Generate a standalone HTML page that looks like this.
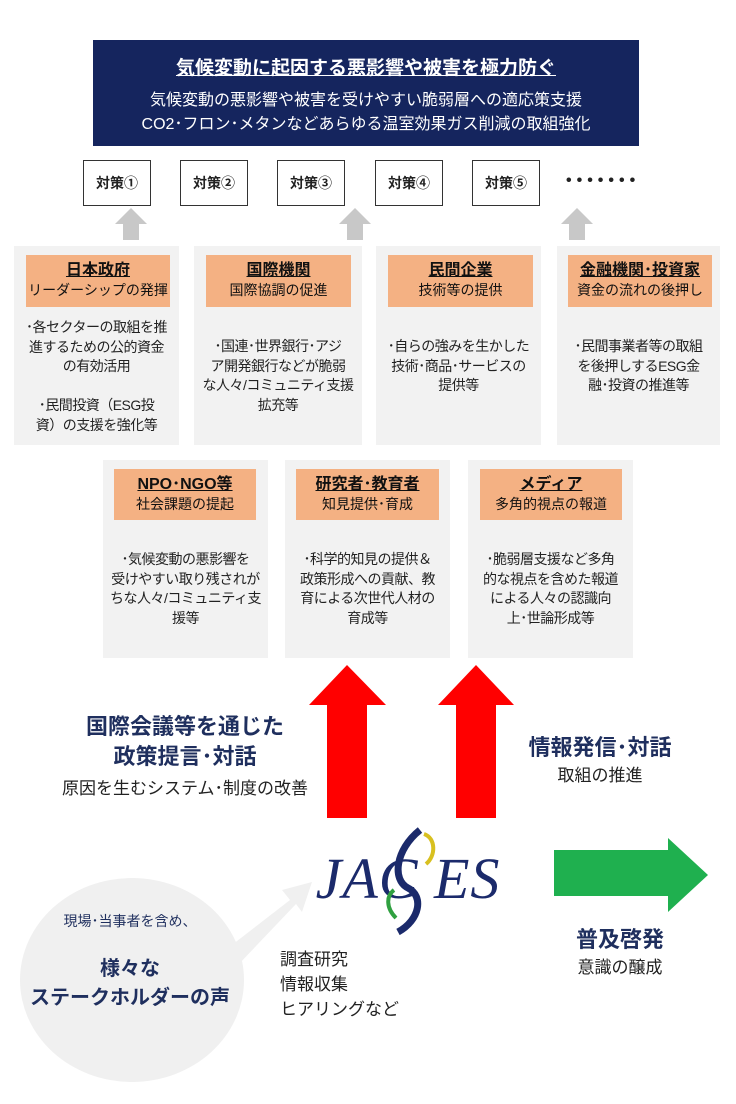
<!DOCTYPE html>
<html><head><meta charset="utf-8"><style>
*{margin:0;padding:0;box-sizing:border-box}
body{width:736px;height:1104px;background:#fff;position:relative;overflow:hidden;font-family:"Liberation Sans","Noto Sans CJK JP",sans-serif;color:#222}
.a{position:absolute}
.hdr{left:93px;top:40px;width:546px;height:106px;background:#15255e;color:#fff;text-align:center}
.k{border:1px solid #333;background:#fff;width:68px;height:46px;font-size:14px;font-weight:bold;display:flex;align-items:center;justify-content:center;top:160px}
.p{background:#f2f2f2}
.o{background:#f4b183;text-align:center;color:#111;font-size:14px;line-height:19px;padding-top:6px;white-space:nowrap}
.o b{font-size:16px;text-decoration:underline;display:block;line-height:20px}
.t{font-size:14px;line-height:19.5px;text-align:center;color:#222;white-space:nowrap;letter-spacing:-0.5px}
</style></head><body>
<div class="a hdr">
<div style="font-size:19px;font-weight:bold;text-decoration:underline;margin-top:17px;line-height:24px">気候変動に起因する悪影響や被害を極力防ぐ</div>
<div style="font-size:16px;line-height:24px;margin-top:8px">気候変動の悪影響や被害を受けやすい脆弱層への適応策支援<br>CO2･フロン･メタンなどあらゆる温室効果ガス削減の取組強化</div>
</div>
<div class="a k" style="left:83px">対策①</div>
<div class="a k" style="left:180px">対策②</div>
<div class="a k" style="left:277px">対策③</div>
<div class="a k" style="left:375px">対策④</div>
<div class="a k" style="left:472px">対策⑤</div>
<div class="a" style="left:566px;top:172px;font-size:16px;font-weight:bold;letter-spacing:5px">•••••••</div>
<svg class="a" style="left:0;top:0" width="736" height="1104">
<g fill="#c8c8c8">
<polygon points="131,208 147,224 139,224 139,240 123,240 123,224 115,224"/>
<polygon points="355,208 371,224 363,224 363,240 347,240 347,224 339,224"/>
<polygon points="577,208 593,224 585,224 585,240 569,240 569,224 561,224"/>
</g>
<ellipse cx="132" cy="980" rx="112" ry="102" fill="#f0f0f0"/>
<polygon points="238,965 228,948 290,900 282,890 312,882 302,912 296,904" fill="#f0f0f0"/>
<g fill="#ff0000">
<polygon points="347,665 386,705 367,705 367,818 327,818 327,705 309,705"/>
<polygon points="476,665 514,705 496,705 496,818 456,818 456,705 438,705"/>
</g>
<polygon points="554,850 668,850 668,838 708,875 668,912 668,896 554,896" fill="#1fb04f"/>
<text x="408" y="898" text-anchor="middle" font-family="Liberation Serif,serif" font-style="italic" font-size="58" fill="#1b2a6b" letter-spacing="1">JAC    ES</text>
<path d="M420,830 C395,850 392,880 408,888 C424,896 420,920 398,932" stroke="#1b2a6b" stroke-width="7" fill="none"/>
<path d="M424,834 C436,838 436,856 426,864" stroke="#d8c020" stroke-width="4" fill="none"/>
<path d="M396,918 C386,908 386,896 394,890" stroke="#30a040" stroke-width="4" fill="none"/>
</svg>
<!-- row 1 -->
<div class="a p" style="left:14px;top:246px;width:165px;height:199px"></div>
<div class="a p" style="left:194px;top:246px;width:168px;height:199px"></div>
<div class="a p" style="left:376px;top:246px;width:165px;height:199px"></div>
<div class="a p" style="left:557px;top:246px;width:163px;height:199px"></div>
<div class="a o" style="left:26px;top:255px;width:144px;height:52px"><b>日本政府</b>リーダーシップの発揮</div>
<div class="a o" style="left:206px;top:255px;width:145px;height:52px"><b>国際機関</b>国際協調の促進</div>
<div class="a o" style="left:388px;top:255px;width:145px;height:52px"><b>民間企業</b>技術等の提供</div>
<div class="a o" style="left:568px;top:255px;width:144px;height:52px"><b>金融機関･投資家</b>資金の流れの後押し</div>
<div class="a t" style="left:16px;top:318px;width:161px">･各セクターの取組を推<br>進するための公的資金<br>の有効活用<br><br>･民間投資（ESG投<br>資）の支援を強化等</div>
<div class="a t" style="left:200px;top:337px;width:156px">･国連･世界銀行･アジ<br>ア開発銀行などが脆弱<br>な人々/コミュニティ支援<br>拡充等</div>
<div class="a t" style="left:382px;top:337px;width:153px">･自らの強みを生かした<br>技術･商品･サービスの<br>提供等</div>
<div class="a t" style="left:562px;top:337px;width:153px">･民間事業者等の取組<br>を後押しするESG金<br>融･投資の推進等</div>
<!-- row 2 -->
<div class="a p" style="left:103px;top:460px;width:165px;height:198px"></div>
<div class="a p" style="left:285px;top:460px;width:165px;height:198px"></div>
<div class="a p" style="left:468px;top:460px;width:165px;height:198px"></div>
<div class="a o" style="left:114px;top:469px;width:142px;height:51px"><b>NPO･NGO等</b>社会課題の提起</div>
<div class="a o" style="left:296px;top:469px;width:143px;height:51px"><b>研究者･教育者</b>知見提供･育成</div>
<div class="a o" style="left:480px;top:469px;width:142px;height:51px"><b>メディア</b>多角的視点の報道</div>
<div class="a t" style="left:108px;top:550px;width:155px">･気候変動の悪影響を<br>受けやすい取り残されが<br>ちな人々/コミュニティ支<br>援等</div>
<div class="a t" style="left:290px;top:550px;width:155px">･科学的知見の提供＆<br>政策形成への貢献、教<br>育による次世代人材の<br>育成等</div>
<div class="a t" style="left:473px;top:550px;width:155px">･脆弱層支援など多角<br>的な視点を含めた報道<br>による人々の認識向<br>上･世論形成等</div>
<!-- labels -->
<div class="a" style="left:35px;top:712px;width:300px;text-align:center;color:#1f2f5e;font-weight:bold;font-size:22px;line-height:30px">国際会議等を通じた<br>政策提言･対話</div>
<div class="a" style="left:35px;top:774px;width:300px;text-align:center;font-size:17px">原因を生むシステム･制度の改善</div>
<div class="a" style="left:500px;top:730px;width:200px;text-align:center;color:#1f2f5e;font-weight:bold;font-size:22px">情報発信･対話</div>
<div class="a" style="left:500px;top:761px;width:200px;text-align:center;font-size:17px">取組の推進</div>
<div class="a" style="left:540px;top:922px;width:160px;text-align:center;color:#1f2f5e;font-weight:bold;font-size:22px">普及啓発</div>
<div class="a" style="left:540px;top:953px;width:160px;text-align:center;font-size:17px">意識の醸成</div>
<div class="a" style="left:20px;top:911px;width:220px;text-align:center;font-size:14px;color:#1f2f5e">現場･当事者を含め、</div>
<div class="a" style="left:10px;top:955px;width:240px;text-align:center;font-size:20px;font-weight:bold;line-height:29px;color:#1f2f5e">様々な<br>ステークホルダーの声</div>
<div class="a" style="left:280px;top:947px;font-size:17px;line-height:25px">調査研究<br>情報収集<br>ヒアリングなど</div>
</body></html>
